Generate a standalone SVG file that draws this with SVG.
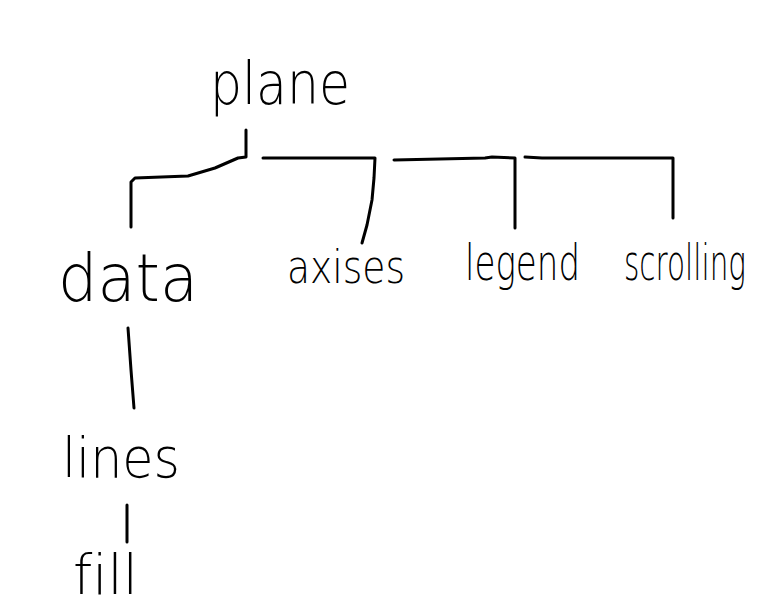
<svg xmlns="http://www.w3.org/2000/svg" width="768" height="614" viewBox="0 0 768 614">
<style>
.t{font-family:"DejaVu Sans","Liberation Sans",sans-serif;font-weight:200;fill:#000;font-variant-ligatures:none;font-feature-settings:"liga" 0;}
.c path{fill:none;stroke:#000;stroke-width:3;stroke-linecap:round;stroke-linejoin:round;}
</style>
<rect width="768" height="614" fill="#fff"/>
<g id="connectors" class="c">
<path d="M246,130 L246,157 L238,158 L215,168 L188,176 L135,178 L131,182 L131,227"/>
<path d="M263,158 L375,158 L374,178 L372,200 L367,225 L362,243"/>
<path d="M394,160 L485,158 L492,157 L515,158 L515,228"/>
<path d="M525,157 L542,158 L673,158 L673,218"/>
<path d="M128,328 L131,370 L134,408"/>
<path d="M127,505 L127,542"/>
</g>
<g id="plane"><text class="t" x="210" y="104" font-size="58" textLength="140" lengthAdjust="spacingAndGlyphs">plane</text></g>
<g id="data"><text class="t" x="58" y="301" font-size="66" textLength="140" lengthAdjust="spacingAndGlyphs">data</text></g>
<g id="axises"><text class="t" x="287" y="283" font-size="46" textLength="118" lengthAdjust="spacingAndGlyphs">axises</text></g>
<g id="legend"><text class="t" x="465" y="280" font-size="50" textLength="115" lengthAdjust="spacingAndGlyphs">legend</text></g>
<g id="scrolling"><text class="t" x="624" y="280" font-size="50" textLength="122" lengthAdjust="spacingAndGlyphs">scrolling</text></g>
<g id="lines"><text class="t" x="62" y="477" font-size="56" textLength="118" lengthAdjust="spacingAndGlyphs">lines</text></g>
<g id="fill"><text class="t" x="73" y="594" font-size="56" textLength="65" lengthAdjust="spacingAndGlyphs">fill</text></g>
</svg>
